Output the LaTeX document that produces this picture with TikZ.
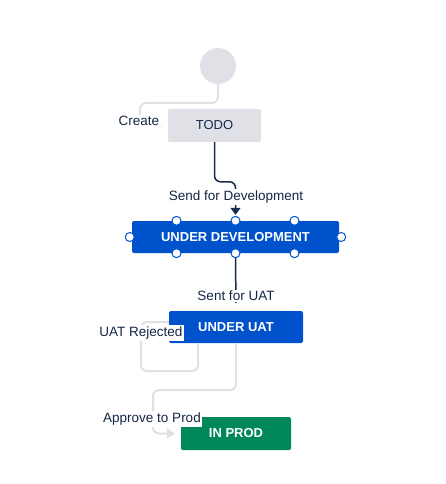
\documentclass[tikz,border=0pt]{standalone}
\usepackage{fontspec}
\setmainfont{Liberation Sans}
\usetikzlibrary{arrows.meta}
\definecolor{jgray}{HTML}{DFE1E6}
\definecolor{jblue}{HTML}{0052CC}
\definecolor{jgreen}{HTML}{00875A}
\definecolor{jdark}{HTML}{172B4D}

\begin{document}
\begin{tikzpicture}[x=1pt,y=-1pt]
    \tikzstyle{status}=[rectangle, rounded corners=2pt, minimum height=33pt, font=\fontsize{13}{15}\selectfont\bfseries, text=white]
    \tikzstyle{trans}=[fill=white, inner sep=1.5pt, text=jdark!90!black, font=\fontsize{13.5}{16}\selectfont]
    \tikzstyle{handle}=[circle, draw=jblue, fill=white, line width=1pt, minimum size=9pt, inner sep=0pt]
    \tikzstyle{grayline}=[draw=jgray, line width=2pt, rounded corners=6pt]
    \tikzstyle{darkline}=[draw=jdark, line width=1.5pt, rounded corners=6pt]

    \useasboundingbox (0,0) rectangle (445,484);

    \node[circle, fill=jgray, minimum size=36pt, inner sep=0pt] (start) at (218,66) {};
    \node[status, fill=jgray, text=jdark, font=\fontsize{13}{15}\selectfont, minimum width=93pt] (todo) at (214.5,125.5) {TODO};
    \node[status, fill=jblue, minimum width=207pt, minimum height=32pt] (undev) at (235.5,237) {UNDER DEVELOPMENT};
    \node[status, fill=jblue, minimum width=134pt, minimum height=32pt] (uat) at (236,327) {UNDER UAT};
    \node[status, fill=jgreen, minimum width=110pt] (prod) at (236,433.5) {IN PROD};

    \draw[grayline] (start.south) |- (140,103) -- (140,126) -- ([xshift=-6pt]todo.west);
    \draw[darkline, -{Triangle[width=10pt,length=7pt]}, shorten >=6pt] (todo.south) |- ([yshift=39pt]undev.north) -- (undev.north);
    \draw[darkline, shorten >=8pt] (undev.south) -- (uat.north);
    \draw[grayline] ([xshift=-38pt]uat.south) |- (141,371) |- ([yshift=5pt]uat.west);
    \draw[grayline, -{Triangle[width=10pt,length=8pt]}, shorten >=6pt] (uat.south) |- (153,390) |- (prod.west);

    \foreach \side in {north, south}
        \foreach \dx in {-59, 0, 59}
            \node[handle] (h-\side\dx) at ([xshift=\dx pt]undev.\side) {};
    \node[handle] (h-west) at ([xshift=-2pt]undev.west) {};
    \node[handle] (h-east) at ([xshift=2pt]undev.east) {};

    \node[trans] (create) at (139,121) {Create};
    \node[trans] (senddev) at (236,197) {Send for Development};
    \node[trans] (sentuat) at (236,296) {Sent for UAT};
    \node[trans] (rejected) at (141,333) {UAT Rejected};
    \node[trans] (approve) at (152,419) {Approve to Prod};
\end{tikzpicture}
\end{document}
